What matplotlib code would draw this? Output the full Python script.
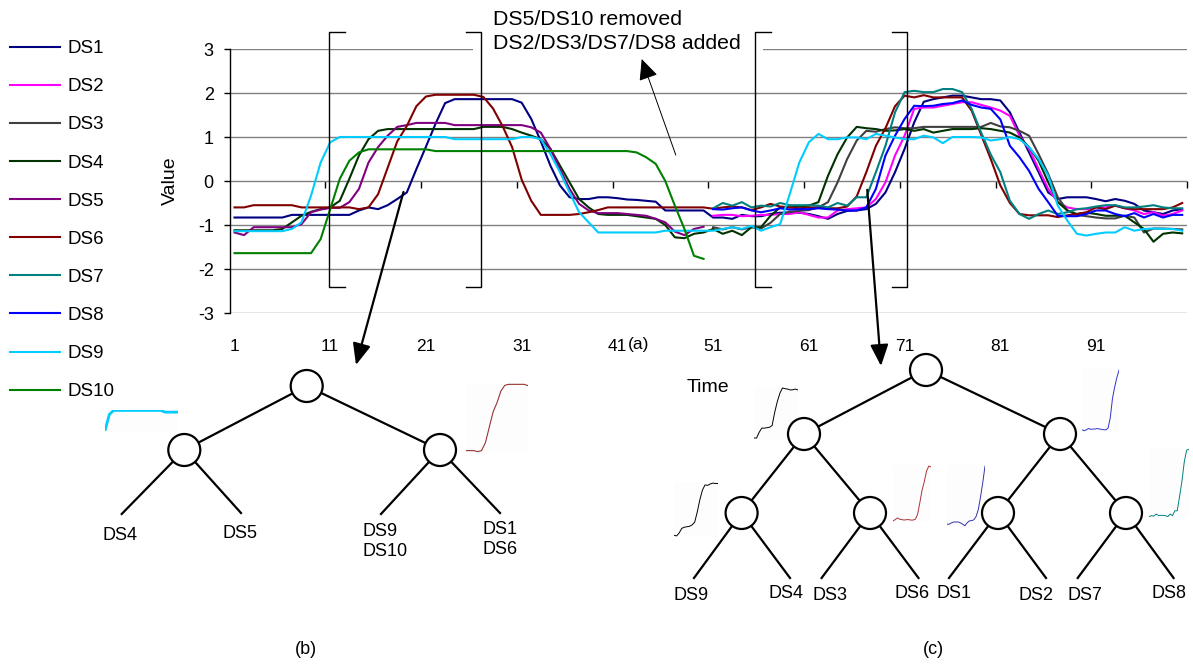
import numpy as np
import matplotlib
matplotlib.use('Agg')
import matplotlib.pyplot as plt
from matplotlib.patches import Circle, Rectangle

plt.rcParams['font.family'] = ['Liberation Sans', 'DejaVu Sans']
plt.rcParams['axes.unicode_minus'] = False

W, H = 1193, 667

## time axes: DS5/DS10 only in the first half, DS2/DS3/DS7/DS8 only in the second
t_all = np.arange(1, 101)
t_first = np.arange(1, 51)
t_last = np.arange(51, 101)

ds1 = [-0.83, -0.83, -0.83, -0.83, -0.83, -0.83, -0.77, -0.77, -0.77, -0.77,
       -0.77, -0.77, -0.77, -0.67, -0.60, -0.64, -0.55, -0.41, -0.26, 0.27,
       0.78, 1.30, 1.77, 1.86, 1.86, 1.86, 1.86, 1.86, 1.86, 1.86,
       1.78, 1.41, 0.90, 0.35, -0.10, -0.37, -0.41, -0.41, -0.37, -0.37,
       -0.39, -0.42, -0.43, -0.45, -0.47, -0.67, -0.67, -0.67, -0.67, -0.67,
       -0.83, -0.83, -0.86, -0.77, -0.80, -0.80, -0.75, -0.72, -0.72, -0.72,
       -0.75, -0.80, -0.86, -0.75, -0.68, -0.67, -0.64, -0.52, -0.26, 0.20,
       0.73, 1.33, 1.80, 1.86, 1.90, 1.94, 1.94, 1.90, 1.86, 1.86,
       1.83, 1.56, 1.10, 0.65, 0.20, -0.26, -0.41, -0.37, -0.37, -0.37,
       -0.41, -0.46, -0.41, -0.45, -0.52, -0.67, -0.71, -0.75, -0.67, -0.64]
ds4 = [-1.12, -1.12, -1.12, -1.12, -1.12, -1.09, -0.94, -0.79, -0.70, -0.64,
       -0.60, -0.45, 0.05, 0.58, 0.95, 1.14, 1.18, 1.18, 1.18, 1.18,
       1.18, 1.18, 1.18, 1.18, 1.18, 1.18, 1.23, 1.23, 1.23, 1.18,
       1.10, 1.03, 0.95, 0.73, 0.35, -0.03, -0.41, -0.60, -0.75, -0.77,
       -0.77, -0.77, -0.80, -0.83, -0.86, -1.00, -1.28, -1.30, -1.20, -1.17,
       -1.09, -1.20, -1.13, -1.23, -1.05, -1.05, -0.79, -0.60, -0.60, -0.58,
       -0.56, -0.48, 0.12, 0.61, 0.99, 1.23, 1.20, 1.18, 1.14, 1.15,
       1.18, 1.14, 1.18, 1.10, 1.14, 1.18, 1.18, 1.18, 1.20, 1.18,
       1.14, 1.10, 0.99, 0.77, 0.46, -0.03, -0.48, -0.67, -0.75, -0.72,
       -0.75, -0.79, -0.79, -0.79, -0.94, -1.09, -1.38, -1.20, -1.17, -1.19]
ds6 = [-0.60, -0.60, -0.55, -0.55, -0.55, -0.55, -0.55, -0.60, -0.60, -0.60,
       -0.60, -0.60, -0.60, -0.64, -0.60, -0.30, 0.30, 0.90, 1.25, 1.70,
       1.92, 1.96, 1.96, 1.96, 1.96, 1.96, 1.91, 1.65, 1.25, 0.77,
       0.03, -0.45, -0.77, -0.77, -0.77, -0.77, -0.75, -0.71, -0.66, -0.60,
       -0.60, -0.60, -0.60, -0.60, -0.60, -0.60, -0.60, -0.60, -0.60, -0.60,
       -0.63, -0.60, -0.58, -0.60, -0.66, -0.60, -0.52, -0.58, -0.60, -0.62,
       -0.60, -0.60, -0.62, -0.62, -0.58, -0.35, 0.20, 0.80, 1.20, 1.70,
       1.94, 1.90, 1.95, 1.90, 1.90, 1.90, 1.90, 1.60, 1.05, 0.50,
       -0.10, -0.50, -0.75, -0.78, -0.78, -0.78, -0.82, -0.78, -0.75, -0.71,
       -0.60, -0.64, -0.56, -0.62, -0.64, -0.64, -0.64, -0.64, -0.60, -0.50]
ds9 = [-1.14, -1.14, -1.14, -1.14, -1.14, -1.14, -1.09, -0.94, -0.33, 0.42,
       0.88, 1.00, 1.00, 1.00, 1.00, 1.00, 1.00, 1.00, 1.00, 1.00,
       1.00, 1.00, 1.00, 0.95, 0.95, 0.95, 0.95, 0.95, 0.95, 0.95,
       1.00, 1.00, 0.95, 0.61, 0.20, -0.26, -0.71, -0.94, -1.17, -1.17,
       -1.17, -1.17, -1.17, -1.17, -1.17, -1.13, -1.13, -1.13, -1.13, -1.13,
       -1.13, -1.09, -1.05, -1.09, -1.02, -1.13, -1.05, -0.98, -0.30, 0.42,
       0.88, 1.07, 0.95, 0.95, 0.99, 0.99, 0.95, 1.07, 1.03, 0.99,
       0.95, 0.95, 1.03, 0.99, 0.86, 1.00, 1.00, 1.00, 0.99, 0.92,
       0.95, 1.00, 0.95, 0.77, 0.50, 0.12, -0.56, -0.90, -1.20, -1.24,
       -1.20, -1.17, -1.17, -1.05, -1.13, -1.09, -1.08, -1.09, -1.09, -1.13]
ds5 = [-1.17, -1.23, -1.05, -1.05, -1.05, -1.05, -1.05, -0.98, -0.71, -0.65,
       -0.61, -0.61, -0.48, -0.18, 0.42, 0.77, 1.03, 1.23, 1.27, 1.32,
       1.32, 1.32, 1.32, 1.27, 1.27, 1.27, 1.27, 1.27, 1.27, 1.27,
       1.27, 1.22, 1.10, 0.73, 0.27, -0.18, -0.52, -0.67, -0.73, -0.73,
       -0.73, -0.75, -0.77, -0.79, -0.86, -0.94, -1.15, -1.23, -1.09, -1.04]
ds10 = [-1.64, -1.64, -1.64, -1.64, -1.64, -1.64, -1.64, -1.64, -1.64, -1.32,
        -0.64, 0.05, 0.46, 0.65, 0.72, 0.72, 0.72, 0.72, 0.72, 0.72,
        0.72, 0.68, 0.68, 0.68, 0.68, 0.68, 0.68, 0.68, 0.68, 0.68,
        0.68, 0.68, 0.68, 0.68, 0.68, 0.68, 0.68, 0.68, 0.68, 0.68,
        0.68, 0.68, 0.65, 0.54, 0.39, 0.00, -0.56, -1.09, -1.70, -1.77]
ds2 = [-0.79, -0.77, -0.77, -0.80, -0.79, -0.77, -0.77, -0.75, -0.75, -0.71,
       -0.77, -0.83, -0.83, -0.67, -0.64, -0.62, -0.60, -0.41, -0.03, 0.58,
       1.03, 1.64, 1.67, 1.67, 1.71, 1.75, 1.79, 1.79, 1.73, 1.67,
       1.60, 1.48, 1.03, 0.73, 0.27, -0.18, -0.48, -0.60, -0.64, -0.64,
       -0.60, -0.60, -0.56, -0.62, -0.67, -0.75, -0.71, -0.79, -0.75, -0.67]
ds3 = [-1.05, -1.10, -1.05, -1.10, -1.05, -1.08, -0.95, -0.75, -0.70, -0.68,
       -0.66, -0.60, -0.48, -0.03, 0.50, 0.92, 1.14, 1.12, 1.18, 1.22,
       1.20, 1.20, 1.23, 1.23, 1.23, 1.23, 1.23, 1.23, 1.23, 1.32,
       1.24, 1.22, 1.14, 1.03, 0.61, 0.16, -0.37, -0.67, -0.77, -0.80,
       -0.83, -0.85, -0.85, -0.79, -0.83, -1.17, -1.08, -1.08, -1.09, -1.10]
ds7 = [-0.62, -0.50, -0.56, -0.48, -0.60, -0.56, -0.58, -0.50, -0.55, -0.55,
       -0.55, -0.56, -0.60, -0.50, -0.56, -0.37, -0.37, 0.20, 0.80, 1.56,
       2.02, 2.05, 2.02, 2.02, 2.09, 2.09, 2.02, 1.64, 1.10, 0.60,
       0.20, -0.45, -0.75, -0.86, -0.75, -0.67, -0.75, -0.71, -0.64, -0.62,
       -0.58, -0.55, -0.55, -0.60, -0.60, -0.58, -0.55, -0.60, -0.62, -0.62]
ds8 = [-0.64, -0.65, -0.62, -0.60, -0.67, -0.71, -0.67, -0.62, -0.65, -0.64,
       -0.64, -0.62, -0.64, -0.65, -0.67, -0.67, -0.60, -0.18, 0.58, 1.03,
       1.41, 1.71, 1.70, 1.71, 1.75, 1.77, 1.83, 1.73, 1.67, 1.64,
       1.40, 0.80, 0.54, 0.23, -0.18, -0.48, -0.79, -0.80, -0.80, -0.75,
       -0.67, -0.67, -0.75, -0.80, -0.73, -0.83, -0.75, -0.83, -0.77, -0.77]

series = {
    'DS1': (t_all, ds1, '#000080'),
    'DS2': (t_last, ds2, '#ff00ff'),
    'DS3': (t_last, ds3, '#404040'),
    'DS4': (t_all, ds4, '#003300'),
    'DS5': (t_first, ds5, '#800080'),
    'DS6': (t_all, ds6, '#800000'),
    'DS7': (t_last, ds7, '#008080'),
    'DS8': (t_last, ds8, '#0000ff'),
    'DS9': (t_all, ds9, '#00ccff'),
    'DS10': (t_first, ds10, '#008000'),
}

x_ticks = [1, 11, 21, 31, 41, 51, 61, 71, 81, 91]
windows = [(10.9, 26.8), (55.4, 71.3)]   # the two bracketed time windows

fig = plt.figure(figsize=(W / 100, H / 100), dpi=100)
ax = fig.add_axes([229.7 / W, (H - 313) / H, (1187 - 229.7) / W, (313 - 49) / H])

handles = []
for name, (t, y, c) in series.items():
    ln, = ax.plot(t, y, color=c, lw=1.5, label=name)
    handles.append(ln)

ax.set_xlim(0.5, 100.5)
ax.set_ylim(-3, 3)
ax.set_yticks(range(-3, 4))
ax.yaxis.grid(True, color='#808080', lw=1)
ax.set_axisbelow(True)
for s in ['top', 'right', 'bottom']:
    ax.spines[s].set_visible(False)
ax.spines['left'].set_linewidth(1)
ax.set_xticks(x_ticks)
ax.set_xticklabels([str(v) for v in x_ticks])
ax.tick_params(axis='x', length=0, pad=19, labelsize=12.5)
ax.tick_params(axis='y', length=4.5, width=1, pad=7, labelsize=13)
ax.set_xlabel('Time', fontsize=14, labelpad=18)
ax.set_ylabel('Value', fontsize=14, labelpad=14)

# tick marks sit on the zero line (category axis crosses at 0)
sec = ax.secondary_xaxis(0.5)
sec.set_xticks(np.arange(10.5, 101, 10))
sec.tick_params(direction='in', length=5, width=1, labeltop=False, labelbottom=False)
sec.spines['top'].set_visible(False)

fig.legend(handles, list(series.keys()), loc='upper left',
           bbox_to_anchor=(10 / W, 1 - 40 / H), frameon=False, fontsize=13.5,
           handlelength=2.65, handletextpad=0.42, labelspacing=1.12,
           borderpad=0, borderaxespad=0)

## overlay in figure pixels (origin top-left) for brackets, arrows and trees
ov = fig.add_axes([0, 0, 1, 1], zorder=10)
ov.set_xlim(0, W)
ov.set_ylim(H, 0)
ov.axis('off')


def to_ov(x, y):
    dx, dy = ax.transData.transform((x, y))
    return dx, H - dy


# white box behind the annotation text (hides the top gridline)
ov.add_patch(Rectangle((473, 0), 290, 57, fc='white', ec='none', zorder=1))
ov.text(493, 25, 'DS5/DS10 removed', fontsize=15.3, va='baseline', zorder=2)
ov.text(493, 49, 'DS2/DS3/DS7/DS8 added', fontsize=15.3, va='baseline', zorder=2)

# brackets around the two windows
y_top, y_bot, serif = 3.39, -2.41, 1.6
for xl, xr in windows:
    for xe, d in [(xl, 1), (xr, -1)]:
        pts = [to_ov(xe + d * serif, y_top), to_ov(xe, y_top),
               to_ov(xe, y_bot), to_ov(xe + d * serif, y_bot)]
        ov.plot([p[0] for p in pts], [p[1] for p in pts], color='black', lw=1, zorder=3)

# "(a)" next to tick label 41
ov.text(to_ov(41, -3)[0] + 10, 345, '(a)', fontsize=12.5, va='center', ha='left')

arrow_kw = dict(arrowstyle='-|>,head_length=1.3,head_width=0.55', color='black',
                shrinkA=0, shrinkB=0, mutation_scale=10)
ov.annotate('', xy=(356, 365), xytext=to_ov(18.65, -0.25),
            arrowprops=dict(lw=1.6, **arrow_kw), zorder=4)
ov.annotate('', xy=(881, 366), xytext=to_ov(67.1, -0.2),
            arrowprops=dict(lw=1.6, **arrow_kw), zorder=4)
ov.annotate('', xy=(641.7, 59), xytext=to_ov(47.1, 0.59),
            arrowprops=dict(lw=0.7, arrowstyle='-|>,head_length=1.3,head_width=0.6',
                            color='black', shrinkA=0, shrinkB=0, mutation_scale=10), zorder=4)

## trees: internal nodes, parent links, leaves (end point, label)
R = 16
tree_b_nodes = [(306.7, 386), (184.3, 450), (440, 450)]
tree_b_links = [(0, 1), (0, 2)]
tree_b_leaves = [(1, (121.7, 514)), (1, (241, 513)), (2, (381, 514)), (2, (500, 513))]

tree_c_nodes = [(926, 370), (804, 434), (1060, 434),
                (741.6, 513), (870, 513), (998, 513), (1126, 513)]
tree_c_links = [(0, 1), (0, 2), (1, 3), (1, 4), (2, 5), (2, 6)]
tree_c_leaves = [(3, (694, 578)), (3, (790, 578)), (4, (821.6, 578)), (4, (918.5, 578)),
                 (5, (949, 578)), (5, (1046, 578)), (6, (1077.7, 578)), (6, (1173.6, 578))]

for nodes, links, leaves in [(tree_b_nodes, tree_b_links, tree_b_leaves),
                             (tree_c_nodes, tree_c_links, tree_c_leaves)]:
    for a, b in links:
        ov.plot([nodes[a][0], nodes[b][0]], [nodes[a][1], nodes[b][1]],
                color='black', lw=1.6, zorder=5)
    for n, (lx, ly) in leaves:
        ov.plot([nodes[n][0], lx], [nodes[n][1], ly], color='black', lw=1.6, zorder=5)
    for cx, cy in nodes:
        ov.add_patch(Circle((cx, cy), R, fc='white', ec='black', lw=1.6, zorder=6))

lab_kw = dict(fontsize=13, zorder=6)
ov.text(120, 540, 'DS4', ha='center', va='baseline', **lab_kw)
ov.text(240, 538, 'DS5', ha='center', va='baseline', **lab_kw)
ov.text(362, 523, 'DS9\nDS10', ha='left', va='top', linespacing=1.25, **lab_kw)
ov.text(482, 521, 'DS1\nDS6', ha='left', va='top', linespacing=1.25, **lab_kw)

c_labels = ['DS9', 'DS4', 'DS3', 'DS6', 'DS1', 'DS2', 'DS7', 'DS8']
c_label_x = [691, 786, 830, 912, 954, 1036, 1085, 1169]
c_label_y = [600, 598, 600, 598, 598, 600, 600, 598]
for lab, lx, ly in zip(c_labels, c_label_x, c_label_y):
    ov.text(lx, ly, lab, ha='center', va='baseline', **lab_kw)

ov.text(306, 650, '(b)', ha='center', va='center', fontsize=13)
ov.text(933, 650, '(c)', ha='center', va='center', fontsize=13)

## small thumbnails of the window slices next to the tree nodes
thumbs = [
    ('DS9', 10, 27, (105, 410, 73, 21), '#00ccff', 2.0),
    ('DS6', 11, 27, (466, 383, 62, 70), '#993333', 0.8),
    ('DS4', 55, 72, (754, 387, 44, 52), 'black', 0.7),
    ('DS3', 55, 72, (674, 482, 44, 55), 'black', 0.7),
    ('DS6', 55, 72, (893, 465, 38, 57), '#aa3333', 0.7),
    ('DS1', 55, 72, (947, 465, 38, 62), '#3333aa', 0.7),
    ('DS8', 55, 72, (1082, 369, 37, 63), '#3333cc', 0.7),
    ('DS7', 55, 72, (1149, 448, 40, 70), '#008080', 0.7),
]
for name, a, b, (x0, y0, w, h), c, lw in thumbs:
    t, y, _ = series[name]
    t = np.asarray(t)
    y = np.asarray(y)
    m = (t >= a) & (t <= b)
    tax = fig.add_axes([x0 / W, 1 - (y0 + h) / H, w / W, h / H], zorder=9)
    tax.plot(t[m], y[m], color=c, lw=lw)
    tax.margins(0, 0.02)
    tax.set_facecolor('#fdfdfd')
    tax.set_xticks([])
    tax.set_yticks([])
    for s in tax.spines.values():
        s.set_visible(False)

fig.savefig('out.png', dpi=100)
